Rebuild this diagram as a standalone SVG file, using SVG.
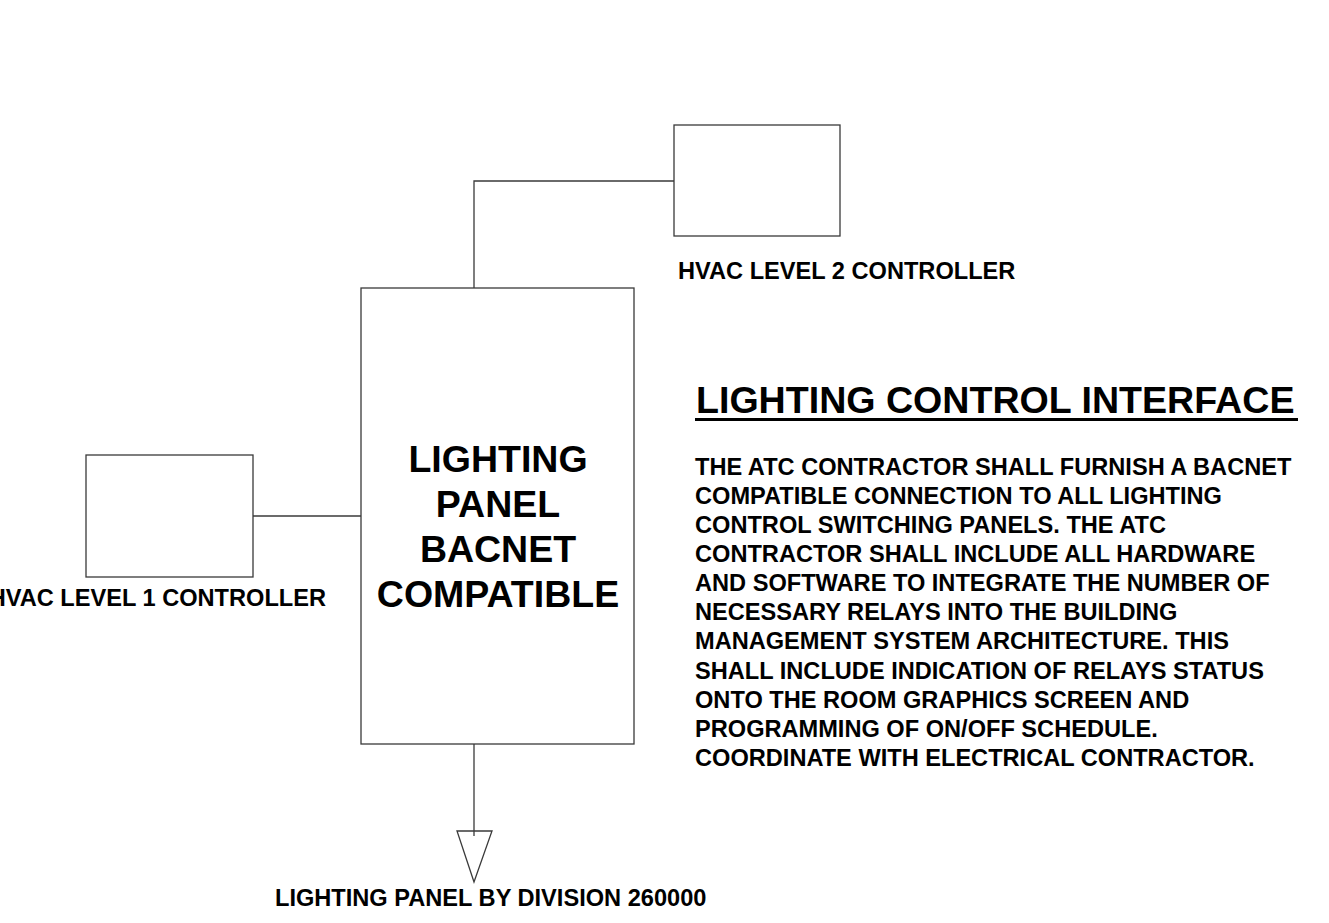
<svg xmlns="http://www.w3.org/2000/svg" width="1329" height="923" viewBox="0 0 1329 923">
<style>
.box{fill:none;stroke:#3a3a3a;stroke-width:1.3}
.wire{fill:none;stroke:#3a3a3a;stroke-width:1.3}
.lbl{font-family:"Liberation Sans",Arial,sans-serif;font-weight:bold;font-size:23.6px;fill:#000}
.big{font-family:"Liberation Sans",Arial,sans-serif;font-weight:bold;font-size:37.5px;fill:#000;text-anchor:middle}
.title{font-family:"Liberation Sans",Arial,sans-serif;font-weight:bold;font-size:37.6px;fill:#000}
</style>
<rect width="1329" height="923" fill="#fff"/>
<g id="connectors">
<polyline class="wire" points="674,181 474,181 474,288"/>
<line class="wire" x1="253" y1="516" x2="361" y2="516"/>
<line class="wire" x1="474" y1="744" x2="474" y2="836"/>
</g>
<g id="hvac2">
<rect class="box" x="674" y="125" width="166" height="111"/>
<text class="lbl" x="678" y="279">HVAC LEVEL 2 CONTROLLER</text>
</g>
<g id="hvac1">
<rect class="box" x="86" y="455" width="167" height="122"/>
<text class="lbl" x="326" y="606" text-anchor="end">HVAC LEVEL 1 CONTROLLER</text>
</g>
<g id="panel">
<rect class="box" x="361" y="288" width="273" height="456"/>
<text class="big" x="498" y="472">LIGHTING</text>
<text class="big" x="498" y="517">PANEL</text>
<text class="big" x="498" y="562">BACNET</text>
<text class="big" x="498" y="607">COMPATIBLE</text>
</g>
<g id="division-panel">
<polygon class="box" points="457,831 492,831 474,882"/>
<text class="lbl" x="275" y="906">LIGHTING PANEL BY DIVISION 260000</text>
</g>
<g id="notes">
<text class="title" x="696" y="413">LIGHTING CONTROL INTERFACE</text>
<rect x="695" y="418" width="603" height="3" fill="#000"/>
<text class="lbl">
<tspan x="695" y="474.5">THE ATC CONTRACTOR SHALL FURNISH A BACNET</tspan>
<tspan x="695" y="503.6">COMPATIBLE CONNECTION TO ALL LIGHTING</tspan>
<tspan x="695" y="532.8">CONTROL SWITCHING PANELS. THE ATC</tspan>
<tspan x="695" y="561.9">CONTRACTOR SHALL INCLUDE ALL HARDWARE</tspan>
<tspan x="695" y="591.1">AND SOFTWARE TO INTEGRATE THE NUMBER OF</tspan>
<tspan x="695" y="620.2">NECESSARY RELAYS INTO THE BUILDING</tspan>
<tspan x="695" y="649.4">MANAGEMENT SYSTEM ARCHITECTURE. THIS</tspan>
<tspan x="695" y="678.5">SHALL INCLUDE INDICATION OF RELAYS STATUS</tspan>
<tspan x="695" y="707.7">ONTO THE ROOM GRAPHICS SCREEN AND</tspan>
<tspan x="695" y="736.8">PROGRAMMING OF ON/OFF SCHEDULE.</tspan>
<tspan x="695" y="766">COORDINATE WITH ELECTRICAL CONTRACTOR.</tspan>
</text>
</g>
</svg>
